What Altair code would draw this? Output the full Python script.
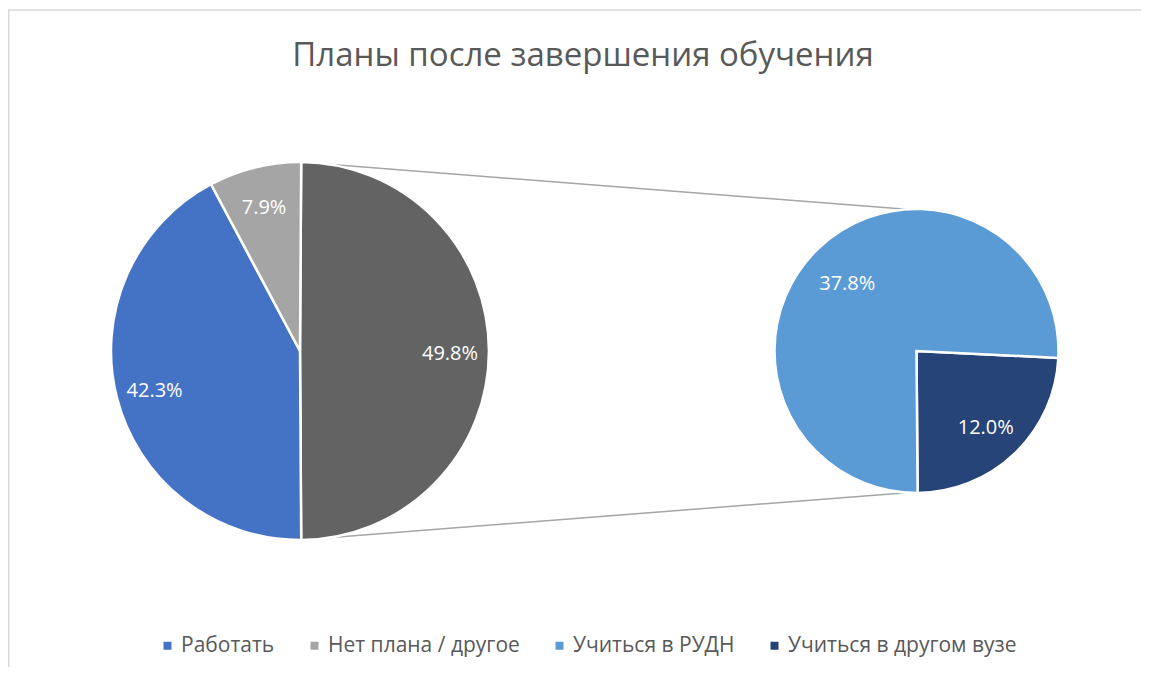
import math
import altair as alt
import pandas as pd

# ---- data ----
main_labels = ["_прочее", "Работать", "Нет плана / другое"]
main_values = [49.8, 42.3, 7.9]
sec_labels = ["Учиться в другом вузе", "Учиться в РУДН"]
sec_values = [12.0, 37.8]
legend_labels = ["Работать", "Нет плана / другое", "Учиться в РУДН", "Учиться в другом вузе"]
title_text = "Планы после завершения обучения"

# ---- layout (chart pixels; page has 8px margin) ----
W, H = 1133, 659
FONT = "Open Sans"
main_cx, main_cy, main_r = 292, 343, 189
sec_cx, sec_cy, sec_r = 908.5, 343, 142
main_start = math.radians(90 - 49.8 / 100 * 360 / 2)
sec_start = math.radians(92.8)

color_domain = ["Работать", "Нет плана / другое", "Учиться в РУДН", "Учиться в другом вузе", "_прочее"]
color_range = ["#4472C4", "#A5A5A5", "#5B9BD5", "#264478", "#636363"]

main_df = pd.DataFrame({"cat": main_labels, "val": main_values, "ord": list(range(len(main_labels)))})
main_df["lbl"] = main_df["val"].map(lambda v: f"{v:.1f}%")
sec_df = pd.DataFrame({"cat": sec_labels, "val": sec_values, "ord": list(range(len(sec_labels)))})
sec_df["lbl"] = sec_df["val"].map(lambda v: f"{v:.1f}%")

color = alt.Color(
    "cat:N",
    scale=alt.Scale(domain=color_domain, range=color_range),
    legend=alt.Legend(
        values=legend_labels, title=None, orient="none", direction="horizontal",
        legendX=149, legendY=627, symbolType="square", symbolSize=64,
        symbolStrokeWidth=0, labelFont=FONT, labelFontSize=21, labelColor="#595959",
        labelOffset=3, columnPadding=29, labelLimit=400,
    ),
)

def theta_enc(df, start):
    return alt.Theta("val:Q", stack=True,
                     scale=alt.Scale(domain=[0, float(sum(df["val"]))], range=[start, start + 2 * math.pi]))

main_arc = alt.Chart(main_df).mark_arc(outerRadius=main_r, stroke="white", strokeWidth=2.5).encode(
    theta=theta_enc(main_df, main_start), color=color, order=alt.Order("ord:Q"),
    x=alt.value(main_cx), y=alt.value(main_cy),
)
main_txt = alt.Chart(main_df).mark_text(font=FONT, fontSize=20, color="white", dy=3).encode(
    theta=theta_enc(main_df, main_start), order=alt.Order("ord:Q"), text="lbl:N",
    radius=alt.value(150), x=alt.value(main_cx), y=alt.value(main_cy),
)
sec_arc = alt.Chart(sec_df).mark_arc(outerRadius=sec_r, stroke="white", strokeWidth=2.5).encode(
    theta=theta_enc(sec_df, sec_start), color=color, order=alt.Order("ord:Q"),
    x=alt.value(sec_cx), y=alt.value(sec_cy),
)
sec_txt = alt.Chart(sec_df).mark_text(font=FONT, fontSize=20, color="white", dy=5).encode(
    theta=theta_enc(sec_df, sec_start), order=alt.Order("ord:Q"), text="lbl:N",
    radius=alt.value(100), x=alt.value(sec_cx), y=alt.value(sec_cy),
)

# connector lines: top & bottom of main pie to points near the top/bottom of the secondary pie
a1, a2 = math.radians(356), math.radians(184)
conn = pd.DataFrame({
    "x": [main_cx, sec_cx + sec_r * math.sin(a1), main_cx, sec_cx + sec_r * math.sin(a2)],
    "y": [main_cy - main_r, sec_cy - sec_r * math.cos(a1), main_cy + main_r, sec_cy - sec_r * math.cos(a2)],
    "g": ["top", "top", "bot", "bot"],
})
xs = alt.Scale(domain=[0, W], range=[0, W])
ys = alt.Scale(domain=[0, H], range=[0, H])
lines = alt.Chart(conn).mark_line(color="#A5A5A5", strokeWidth=1.5).encode(
    x=alt.X("x:Q", scale=xs, axis=None), y=alt.Y("y:Q", scale=ys, axis=None), detail="g:N",
)

title = alt.Chart(pd.DataFrame({"t": [title_text]})).mark_text(
    font=FONT, fontSize=33, color="#595959", baseline="middle", align="center"
).encode(text="t:N", x=alt.value(575), y=alt.value(48))

frame = alt.Chart(pd.DataFrame({"k": [0]})).mark_rule(color="#D9D9D9", strokeWidth=1.5).encode(
    x=alt.value(0), x2=alt.value(W), y=alt.value(2), y2=alt.value(2)
)
frame2 = alt.Chart(pd.DataFrame({"k": [0]})).mark_rule(color="#D9D9D9", strokeWidth=1.5).encode(
    x=alt.value(0.75), x2=alt.value(0.75), y=alt.value(2), y2=alt.value(H + 8)
)

chart = alt.layer(frame, frame2, lines, main_arc, sec_arc, main_txt, sec_txt, title).resolve_scale(
    theta="independent"
).properties(
    width=W, height=H, padding=0, autosize=alt.AutoSizeParams(type="none")
).configure_view(stroke=None)

chart.save("out.html", embed_options={"renderer": "svg", "actions": False})
